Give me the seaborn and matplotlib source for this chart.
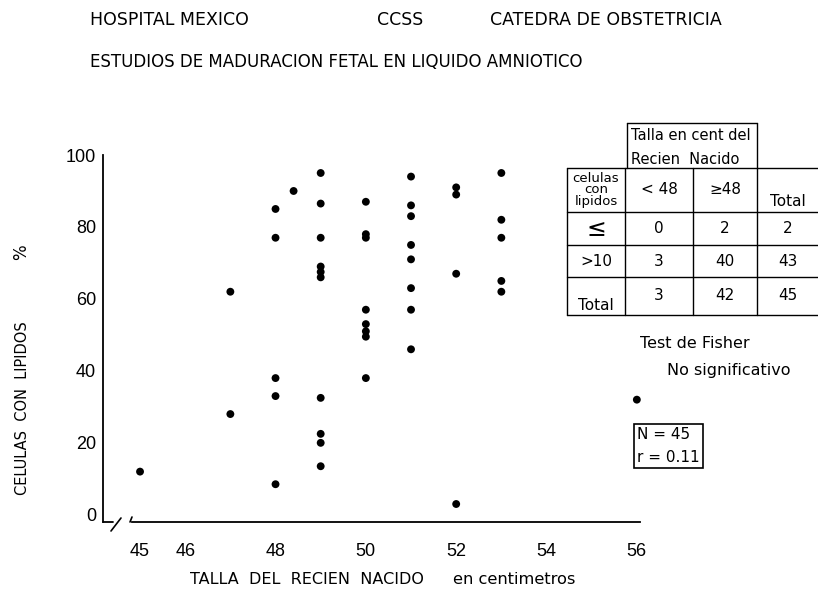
import seaborn as sns
import matplotlib.pyplot as plt
from matplotlib.lines import Line2D
import pandas as pd

# talla del recien nacido (cm) y % de celulas con lipidos
talla = [45,
         47, 47,
         48, 48, 48, 48, 48, 48.4,
         49, 49, 49, 49, 49, 49, 49, 49, 49, 49,
         50, 50, 50, 50, 50, 50, 50, 50,
         51, 51, 51, 51, 51, 51, 51, 51,
         52, 52, 52, 52,
         53, 53, 53, 53, 53,
         56]
celulas = [12,
           62, 28,
           85, 77, 38, 33, 8.5, 90,
           95, 86.5, 77, 69, 67.5, 66, 32.5, 22.5, 20, 13.5,
           87, 78, 77, 57, 53, 51, 49.5, 38,
           94, 86, 83, 75, 71, 63, 57, 46,
           91, 89, 67, 3,
           95, 82, 77, 65, 62,
           32]

x_ticks = [45, 46, 48, 50, 52, 54, 56]
y_ticks = [0, 20, 40, 60, 80, 100]

# tabla de contingencia (Test de Fisher)
tabla_header = ['Talla en cent del', 'Recien  Nacido']
tabla_filas = [['celulas\ncon\nlipidos', '< 48', '≥48', 'Total'],
               ['≤', '0', '2', '2'],
               ['>10', '3', '40', '43'],
               ['Total', '3', '42', '45']]

W, H = 818, 593


def fx(px):
    return px / W


def fy(py):
    return 1 - py / H


sns.set_style('white')
plt.rcParams['font.family'] = ['DejaVu Sans']
plt.rcParams['text.color'] = 'black'
plt.rcParams['xtick.color'] = 'black'
plt.rcParams['ytick.color'] = 'black'
hand = ['DejaVu Sans']

fig = plt.figure(figsize=(W / 100, H / 100), dpi=100)
ax = fig.add_axes([fx(103), fy(522), (640 - 103) / W, (522 - 155) / H])

df = pd.DataFrame({'talla': talla, 'celulas': celulas})
sns.scatterplot(data=df, x='talla', y='celulas', color='black', s=32,
                edgecolor='none', ax=ax, clip_on=False)

ax.set_xlim(44.18, 56.07)
ax.set_ylim(-2, 100)
ax.set_xticks(x_ticks)
ax.set_yticks(y_ticks)
ax.set_xticklabels([str(t) for t in x_ticks], family='Liberation Sans', fontsize=13)
ax.set_yticklabels([str(t) for t in y_ticks], family='Liberation Sans', fontsize=13)
ax.tick_params(axis='x', length=0, pad=15)
ax.tick_params(axis='y', length=0, pad=5)
ax.set_xlabel('')
ax.set_ylabel('')
for s in ['top', 'right']:
    ax.spines[s].set_visible(False)
for s in ['left', 'bottom']:
    ax.spines[s].set_color('black')
    ax.spines[s].set_linewidth(1.3)
ax.spines['bottom'].set_bounds(44.82, 56.07)

# corte del eje x
fig.add_artist(Line2D([fx(103), fx(113)], [fy(522), fy(522)], color='black', lw=1.3))
fig.add_artist(Line2D([fx(111), fx(121)], [fy(531), fy(518)], color='black', lw=1.2))
fig.add_artist(Line2D([fx(130), fx(132)], [fy(522), fy(517)], color='black', lw=1.2))

# encabezados
fig.text(fx(90), fy(20), 'HOSPITAL MEXICO', family=hand, fontsize=12.5, va='center')
fig.text(fx(377), fy(20), 'CCSS', family=hand, fontsize=12.5, va='center')
fig.text(fx(490), fy(20), 'CATEDRA DE OBSTETRICIA', family=hand, fontsize=12.5, va='center')
fig.text(fx(90), fy(62), 'ESTUDIOS DE MADURACION FETAL EN LIQUIDO AMNIOTICO',
         family=hand, fontsize=12, va='center')

# titulos de ejes
fig.text(fx(23), fy(408), 'CELULAS  CON  LIPIDOS', family=hand, fontsize=10.5,
         rotation=90, ha='center', va='center')
fig.text(fx(21), fy(252), '%', family=hand, fontsize=12, rotation=90,
         ha='center', va='center')
fig.text(fx(190), fy(580), 'TALLA  DEL  RECIEN  NACIDO', family=hand, fontsize=11.5,
         va='center')
fig.text(fx(453), fy(580), 'en centimetros', family=hand, fontsize=11.7, va='center')

# tabla
col_x = [567, 625, 693, 757, 818]
row_y = [168, 212, 245, 277, 315]
for yy in row_y:
    fig.add_artist(Line2D([fx(col_x[0]), fx(col_x[-1])], [fy(yy), fy(yy)],
                          color='black', lw=1))
for xx in col_x[:-1]:
    fig.add_artist(Line2D([fx(xx), fx(xx)], [fy(row_y[0]), fy(row_y[-1])],
                          color='black', lw=1))
# caja del encabezado
for xx in [627, 757]:
    fig.add_artist(Line2D([fx(xx), fx(xx)], [fy(123), fy(168)], color='black', lw=1))
fig.add_artist(Line2D([fx(627), fx(757)], [fy(123), fy(123)], color='black', lw=1))
fig.text(fx(631), fy(135), tabla_header[0], family=hand, fontsize=10.5, va='center')
fig.text(fx(631), fy(160), tabla_header[1], family=hand, fontsize=10.5, va='center')

for i, fila in enumerate(tabla_filas):
    yc = (row_y[i] + row_y[i + 1]) / 2
    for j, txt in enumerate(fila):
        xc = (col_x[j] + col_x[j + 1]) / 2
        fs = 11
        if i == 0 and j == 0:
            fs = 9.5
        if txt in ('≤',):
            fs = 17
        if i == 0 and j == 3:
            yc_t = row_y[1] - 10
        elif i == 3 and j == 0:
            yc_t = row_y[4] - 10
        else:
            yc_t = yc
        fig.text(fx(xc), fy(yc_t), txt, family=hand, fontsize=fs,
                 ha='center', va='center', linespacing=0.85)

fig.text(fx(640), fy(343), 'Test de Fisher', family=hand, fontsize=11.5, va='center')
fig.text(fx(667), fy(370), 'No significativo', family=hand, fontsize=11.5, va='center')

# recuadro N y r
fig.text(fx(637), fy(446), 'N = 45\nr = 0.11', family=hand, fontsize=11,
         va='center', linespacing=1.6,
         bbox=dict(boxstyle='square,pad=0.2', fc='white', ec='black', lw=1.2))

fig.savefig('out.png', dpi=100)
